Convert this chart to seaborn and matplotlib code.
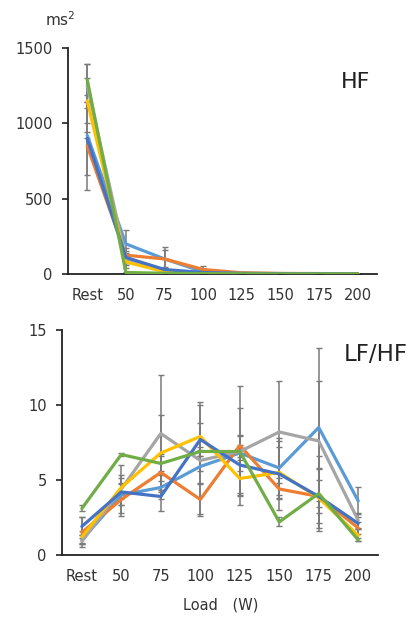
# HF and LF/HF against load, six series with SD error bars.

import matplotlib
matplotlib.use('Agg')
import matplotlib.pyplot as plt
import numpy as np
import pandas as pd
import seaborn as sns

loads = ['Rest', '50', '75', '100', '125', '150', '175', '200']
series = ['s1', 's2', 's3', 's4', 's5', 's6']
colors = ['#5B9BD5', '#ED7D31', '#A5A5A5', '#FFC000', '#4472C4', '#70AD47']

# HF (ms^2)
hf_s1 = [920, 200, 100, 15, 5, 3, 2, 2]
hf_s2 = [850, 125, 100, 30, 8, 4, 3, 2]
hf_s3 = [1250, 100, 20, 8, 4, 2, 2, 1]
hf_s4 = [1150, 80, 15, 5, 3, 2, 1, 1]
hf_s5 = [900, 110, 30, 10, 4, 2, 2, 1]
hf_s6 = [1290, 10, 5, 3, 2, 1, 1, 1]

hf_e1 = [20, 90, 60, 5, 2, 1, 1, 1]
hf_e2 = [290, 50, 80, 25, 2, 1, 1, 1]
hf_e3 = [145, 40, 15, 5, 2, 1, 1, 1]
hf_e4 = [150, 40, 15, 5, 2, 1, 1, 1]
hf_e5 = [240, 40, 15, 5, 2, 1, 1, 1]
hf_e6 = [105, 5, 5, 3, 2, 1, 1, 1]

# LF/HF
lf_s1 = [1.0, 4.0, 4.5, 5.9, 6.8, 5.8, 8.5, 3.6]
lf_s2 = [1.5, 3.7, 5.5, 3.7, 7.3, 4.4, 3.9, 1.8]
lf_s3 = [0.9, 4.4, 8.1, 6.3, 6.9, 8.2, 7.6, 2.3]
lf_s4 = [1.2, 4.5, 6.8, 7.9, 5.1, 5.5, 3.8, 1.3]
lf_s5 = [1.9, 4.2, 3.9, 7.7, 6.0, 5.4, 3.9, 2.1]
lf_s6 = [3.1, 6.7, 6.1, 6.9, 6.9, 2.2, 4.1, 1.0]

lf_e1 = [0.3, 0.7, 0.8, 1.1, 1.2, 1.8, 5.3, 0.9]
lf_e2 = [1.0, 1.1, 1.2, 1.0, 4.0, 0.7, 1.8, 0.4]
lf_e3 = [0.2, 1.6, 3.9, 3.7, 2.9, 3.4, 4.0, 0.5]
lf_e4 = [0.4, 0.8, 2.5, 2.3, 1.2, 1.7, 2.0, 0.4]
lf_e5 = [0.6, 0.9, 1.0, 1.1, 1.9, 2.4, 1.1, 0.4]
lf_e6 = [0.2, 0.1, 0.5, 0.3, 0.4, 0.3, 2.5, 0.1]

hf_vals = [hf_s1, hf_s2, hf_s3, hf_s4, hf_s5, hf_s6]
hf_errs = [hf_e1, hf_e2, hf_e3, hf_e4, hf_e5, hf_e6]
lf_vals = [lf_s1, lf_s2, lf_s3, lf_s4, lf_s5, lf_s6]
lf_errs = [lf_e1, lf_e2, lf_e3, lf_e4, lf_e5, lf_e6]

sns.set_style('white')
plt.rcParams['font.family'] = ['DejaVu Sans']
plt.rcParams['mathtext.fontset'] = 'dejavusans'
txt = '#333333'


def long_df(vals, errs):
    rows = []
    for s, v, e in zip(series, vals, errs):
        for i in range(len(loads)):
            rows.append({'x': i, 'series': s, 'v': v[i], 'e': e[i]})
    return pd.DataFrame(rows)


def draw(ax, df, ymax, yticks):
    for s, c in zip(series, colors):
        d = df[df['series'] == s]
        ax.errorbar(d['x'], d['v'], yerr=d['e'], fmt='none', ecolor='#7a7a7a',
                    elinewidth=1.1, capsize=2.5, capthick=1.0, zorder=2)
        sns.lineplot(data=d, x='x', y='v', color=c, linewidth=2.3, ax=ax,
                     legend=False, zorder=3)
    ax.set_xlim(-0.5, 7.5)
    ax.set_ylim(0, ymax)
    ax.set_yticks(yticks)
    ax.set_xticks(range(len(loads)))
    ax.set_xticklabels(loads)
    ax.set_xlabel('')
    ax.set_ylabel('')
    for sp in ['top', 'right']:
        ax.spines[sp].set_visible(False)
    for sp in ['left', 'bottom']:
        ax.spines[sp].set_color('#222222')
        ax.spines[sp].set_linewidth(1.3)
    ax.tick_params(axis='x', length=0, pad=10, labelsize=10.5, colors=txt)
    ax.tick_params(axis='y', length=4, width=1.2, color='#222222', pad=7,
                   labelsize=10.5, labelcolor=txt, left=True)


fig = plt.figure(figsize=(4.14, 6.18), dpi=100)
ax1 = fig.add_axes([0.164, 0.5566, 0.747, 0.3657])
ax2 = fig.add_axes([0.150, 0.102, 0.763, 0.364])

draw(ax1, long_df(hf_vals, hf_errs), 1500, [0, 500, 1000, 1500])
draw(ax2, long_df(lf_vals, lf_errs), 15, [0, 5, 10, 15])

fig.text(0.108, 0.968, 'ms$^2$', fontsize=11, color=txt, va='center')
ax1.text(0.977, 0.85, 'HF', transform=ax1.transAxes, fontsize=16,
         color='#222222', ha='right', va='center')
ax2.text(1.095, 0.889, 'LF/HF', transform=ax2.transAxes, fontsize=16.5,
         color='#222222', ha='right', va='center')
fig.text(0.533, 0.021, 'Load\u3000(W)', fontsize=10.5, color=txt,
         ha='center', va='center',
         family=['DejaVu Sans', 'Noto Sans CJK JP'])

fig.savefig('out.png', dpi=100)
